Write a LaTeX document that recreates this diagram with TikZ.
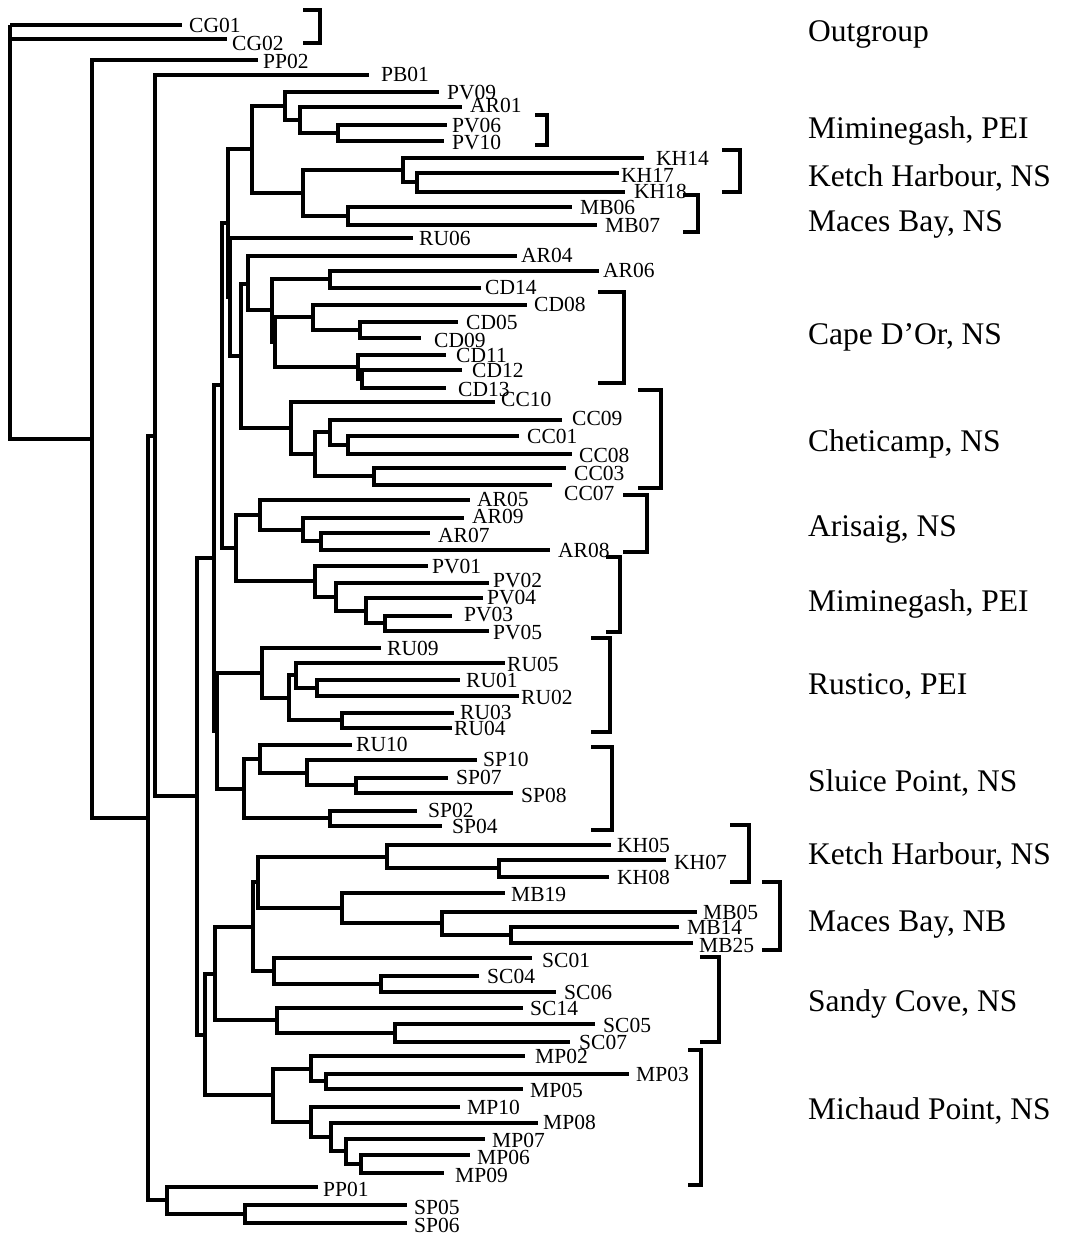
\documentclass[tikz,border=0pt]{standalone}
\usepackage{fontspec}
\setmainfont{Liberation Serif}
\newcommand\Lf[6]{\coordinate (#1) at (#2,#3); \node[lab] (t#1) at (#4,#5+7.2) {#6};}
\newcommand\Kids[2]{\foreach \c in {#2} {\draw[br] (#1) |- (\c);}}
\newcommand\Brk[4]{\draw[brk] (#1,#3) -- (#2,#3) -- (#2,#4) -- (#1,#4);}
\begin{document}
\begin{tikzpicture}[x=1pt,y=-1pt,
  br/.style={line width=3.8pt, line join=miter},
  brk/.style={line width=3.8pt, line join=miter},
  lab/.style={anchor=base west, inner sep=0pt, font=\fontsize{21.5}{22}\selectfont},
  grp/.style={anchor=base west, inner sep=0pt, font=\fontsize{31.5}{32}\selectfont}]
\useasboundingbox[fill=white] (0,0) rectangle (1066,1237);
% leaves: name, line end x, line y, label x, label y
\Lf{CG01}{182}{25}{189}{25}{CG01}
\Lf{CG02}{227}{39}{232}{43}{CG02}
\Lf{PP02}{258}{60}{263}{61}{PP02}
\Lf{PB01}{369}{75}{381}{74}{PB01}
\Lf{PV09}{439}{92}{447}{92}{PV09}
\Lf{AR01}{462}{107}{470}{105}{AR01}
\Lf{PV06}{447}{125}{452}{125}{PV06}
\Lf{PV10}{444}{141}{452}{142}{PV10}
\Lf{KH14}{644}{158}{656}{158}{KH14}
\Lf{KH17}{619}{173}{621}{175}{KH17}
\Lf{KH18}{625}{192}{634}{191}{KH18}
\Lf{MB06}{572}{207}{580}{207}{MB06}
\Lf{MB07}{597}{225}{605}{225}{MB07}
\Lf{RU06}{413}{238}{419}{238}{RU06}
\Lf{AR04}{517}{256}{521}{255}{AR04}
\Lf{AR06}{599}{271}{603}{270}{AR06}
\Lf{CD14}{481}{288}{485}{287}{CD14}
\Lf{CD08}{527}{305}{534}{304}{CD08}
\Lf{CD05}{458}{322}{466}{322}{CD05}
\Lf{CD09}{421}{338}{434}{340}{CD09}
\Lf{CD11}{446}{355}{456}{355}{CD11}
\Lf{CD12}{462}{370}{472}{370}{CD12}
\Lf{CD13}{446}{388}{458}{389}{CD13}
\Lf{CC10}{495}{402}{501}{399}{CC10}
\Lf{CC09}{562}{420}{572}{418}{CC09}
\Lf{CC01}{519}{436}{527}{436}{CC01}
\Lf{CC08}{572}{454}{579}{455}{CC08}
\Lf{CC03}{566}{468}{574}{473}{CC03}
\Lf{CC07}{552}{485}{564}{493}{CC07}
\Lf{AR05}{470}{500}{477}{499}{AR05}
\Lf{AR09}{464}{518}{472}{516}{AR09}
\Lf{AR07}{430}{533}{438}{535}{AR07}
\Lf{AR08}{550}{550}{558}{550}{AR08}
\Lf{PV01}{428}{566}{432}{566}{PV01}
\Lf{PV02}{489}{583}{493}{580}{PV02}
\Lf{PV04}{483}{598}{487}{597}{PV04}
\Lf{PV03}{452}{616}{464}{614}{PV03}
\Lf{PV05}{489}{631}{493}{632}{PV05}
\Lf{RU09}{381}{648}{387}{648}{RU09}
\Lf{RU05}{505}{663}{507}{664}{RU05}
\Lf{RU01}{460}{680}{466}{680}{RU01}
\Lf{RU02}{519}{696}{521}{697}{RU02}
\Lf{RU03}{454}{713}{460}{712}{RU03}
\Lf{RU04}{452}{728}{454}{728}{RU04}
\Lf{RU10}{352}{745}{356}{744}{RU10}
\Lf{SP10}{477}{760}{483}{759}{SP10}
\Lf{SP07}{448}{778}{456}{777}{SP07}
\Lf{SP08}{513}{793}{521}{795}{SP08}
\Lf{SP02}{417}{811}{428}{810}{SP02}
\Lf{SP04}{442}{826}{452}{826}{SP04}
\Lf{KH05}{611}{845}{617}{845}{KH05}
\Lf{KH07}{666}{860}{674}{862}{KH07}
\Lf{KH08}{609}{877}{617}{877}{KH08}
\Lf{MB19}{505}{893}{511}{894}{MB19}
\Lf{MB05}{697}{912}{703}{912}{MB05}
\Lf{MB14}{679}{927}{687}{927}{MB14}
\Lf{MB25}{693}{943}{699}{945}{MB25}
\Lf{SC01}{532}{958}{542}{960}{SC01}
\Lf{SC04}{479}{976}{487}{976}{SC04}
\Lf{SC06}{556}{992}{564}{992}{SC06}
\Lf{SC14}{523}{1008}{530}{1008}{SC14}
\Lf{SC05}{595}{1024}{603}{1025}{SC05}
\Lf{SC07}{570}{1042}{579}{1042}{SC07}
\Lf{MP02}{525}{1056}{535}{1056}{MP02}
\Lf{MP03}{629}{1074}{636}{1074}{MP03}
\Lf{MP05}{523}{1089}{530}{1090}{MP05}
\Lf{MP10}{460}{1107}{467}{1107}{MP10}
\Lf{MP08}{538}{1123}{543}{1122}{MP08}
\Lf{MP07}{485}{1139}{492}{1140}{MP07}
\Lf{MP06}{470}{1155}{477}{1157}{MP06}
\Lf{MP09}{444}{1173}{455}{1175}{MP09}
\Lf{PP01}{318}{1187}{323}{1189}{PP01}
\Lf{SP05}{407}{1205}{414}{1207}{SP05}
\Lf{SP06}{407}{1223}{414}{1225}{SP06}
% internal nodes
\coordinate (r) at (10,25);
\coordinate (N) at (92,439);
\coordinate (O) at (148,818);
\coordinate (P) at (155,436);
\coordinate (Q) at (197,796);
\coordinate (R) at (214,558);
\coordinate (S) at (222,385);
\coordinate (U) at (228,223);
\coordinate (Tp) at (252,149);
\coordinate (A1) at (285,106);
\coordinate (A3) at (300,120);
\coordinate (A4) at (338,133);
\coordinate (A2) at (303,193);
\coordinate (KHa) at (403,170);
\coordinate (KHb) at (417,182);
\coordinate (MBa) at (348,216);
\coordinate (V) at (230,297);
\coordinate (W) at (241,356);
\coordinate (X) at (248,284);
\coordinate (Y) at (272,310);
\coordinate (Y1) at (330,279);
\coordinate (Z) at (275,342);
\coordinate (Z1) at (313,317);
\coordinate (Z3) at (360,330);
\coordinate (Z2) at (358,367);
\coordinate (Z4) at (362,379);
\coordinate (CCa) at (291,428);
\coordinate (CCb) at (315,454);
\coordinate (CCc) at (330,432);
\coordinate (CCd) at (348,445);
\coordinate (CCe) at (374,476);
\coordinate (ARPV) at (236,548);
\coordinate (ARa) at (260,515);
\coordinate (ARb) at (303,530);
\coordinate (ARc) at (321,541);
\coordinate (PVa) at (315,581);
\coordinate (PVb) at (336,597);
\coordinate (PVc) at (366,611);
\coordinate (PVd) at (385,623);
\coordinate (T) at (217,731);
\coordinate (RUa) at (262,673);
\coordinate (RUb) at (289,698);
\coordinate (RUc) at (296,675);
\coordinate (RUd) at (317,688);
\coordinate (RUe) at (342,720);
\coordinate (SPa) at (244,789);
\coordinate (SPb) at (260,759);
\coordinate (SPc) at (307,773);
\coordinate (SPd) at (356,785);
\coordinate (SPe) at (330,818);
\coordinate (Hn) at (205,1035);
\coordinate (Ha) at (215,974);
\coordinate (Hb) at (253,927);
\coordinate (Hc) at (258,882);
\coordinate (KHc) at (387,857);
\coordinate (KHd) at (499,868);
\coordinate (MBb) at (342,908);
\coordinate (MBc) at (442,923);
\coordinate (MBd) at (511,935);
\coordinate (SCa) at (274,971);
\coordinate (SCb) at (381,984);
\coordinate (SCd) at (277,1020);
\coordinate (SCe) at (395,1033);
\coordinate (MPa) at (273,1095);
\coordinate (MPb) at (311,1069);
\coordinate (MPc) at (326,1081);
\coordinate (MPd) at (311,1122);
\coordinate (MPe) at (331,1137);
\coordinate (MPf) at (346,1151);
\coordinate (MPg) at (361,1164);
\coordinate (PPc) at (167,1200);
\coordinate (PPd) at (245,1214);
% branches
\Kids{r}{CG01,CG02,N}
\Kids{N}{PP02,O}
\Kids{O}{P,PPc}
\Kids{P}{PB01,Q}
\Kids{Q}{R,Hn}
\Kids{R}{S,T}
\Kids{S}{U,ARPV}
\Kids{U}{Tp,V}
\Kids{Tp}{A1,A2}
\Kids{A1}{PV09,A3}
\Kids{A3}{AR01,A4}
\Kids{A4}{PV06,PV10}
\Kids{A2}{KHa,MBa}
\Kids{KHa}{KH14,KHb}
\Kids{KHb}{KH17,KH18}
\Kids{MBa}{MB06,MB07}
\Kids{V}{RU06,W}
\Kids{W}{X,CCa}
\Kids{X}{AR04,Y}
\Kids{Y}{Y1,Z}
\Kids{Y1}{AR06,CD14}
\Kids{Z}{Z1,Z2}
\Kids{Z1}{CD08,Z3}
\Kids{Z3}{CD05,CD09}
\Kids{Z2}{CD11,Z4}
\Kids{Z4}{CD12,CD13}
\Kids{CCa}{CC10,CCb}
\Kids{CCb}{CCc,CCe}
\Kids{CCc}{CC09,CCd}
\Kids{CCd}{CC01,CC08}
\Kids{CCe}{CC03,CC07}
\Kids{ARPV}{ARa,PVa}
\Kids{ARa}{AR05,ARb}
\Kids{ARb}{AR09,ARc}
\Kids{ARc}{AR07,AR08}
\Kids{PVa}{PV01,PVb}
\Kids{PVb}{PV02,PVc}
\Kids{PVc}{PV04,PVd}
\Kids{PVd}{PV03,PV05}
\Kids{T}{RUa,SPa}
\Kids{RUa}{RU09,RUb}
\Kids{RUb}{RUc,RUe}
\Kids{RUc}{RU05,RUd}
\Kids{RUd}{RU01,RU02}
\Kids{RUe}{RU03,RU04}
\Kids{SPa}{SPb,SPe}
\Kids{SPb}{RU10,SPc}
\Kids{SPc}{SP10,SPd}
\Kids{SPd}{SP07,SP08}
\Kids{SPe}{SP02,SP04}
\Kids{Hn}{Ha,MPa}
\Kids{Ha}{Hb,SCd}
\Kids{Hb}{Hc,SCa}
\Kids{Hc}{KHc,MBb}
\Kids{KHc}{KH05,KHd}
\Kids{KHd}{KH07,KH08}
\Kids{MBb}{MB19,MBc}
\Kids{MBc}{MB05,MBd}
\Kids{MBd}{MB14,MB25}
\Kids{SCa}{SC01,SCb}
\Kids{SCb}{SC04,SC06}
\Kids{SCd}{SC14,SCe}
\Kids{SCe}{SC05,SC07}
\Kids{MPa}{MPb,MPd}
\Kids{MPb}{MP02,MPc}
\Kids{MPc}{MP03,MP05}
\Kids{MPd}{MP10,MPe}
\Kids{MPe}{MP08,MPf}
\Kids{MPf}{MP07,MPg}
\Kids{MPg}{MP06,MP09}
\Kids{PPc}{PP01,PPd}
\Kids{PPd}{SP05,SP06}
% brackets
\Brk{303}{320}{10}{43}
\Brk{535}{547}{115}{145}
\Brk{722}{740}{150}{192}
\Brk{683}{698}{195}{232}
\Brk{598}{624}{292}{383}
\Brk{638}{661}{390}{488}
\Brk{623}{647}{495}{552}
\Brk{606}{620}{557}{632}
\Brk{591}{610}{638}{732}
\Brk{591}{612}{747}{830}
\Brk{730}{749}{825}{882}
\Brk{762}{780}{882}{950}
\Brk{700}{719}{957}{1042}
\Brk{688}{701}{1050}{1185}
% group labels
\node[grp] (g1) at (808,41) {Outgroup};
\node[grp] (g2) at (808,138) {Miminegash, PEI};
\node[grp] (g3) at (808,186) {Ketch Harbour, NS};
\node[grp] (g4) at (808,231) {Maces Bay, NS};
\node[grp] (g5) at (808,344) {Cape D’Or, NS};
\node[grp] (g6) at (808,451) {Cheticamp, NS};
\node[grp] (g7) at (808,536) {Arisaig, NS};
\node[grp] (g8) at (808,611) {Miminegash, PEI};
\node[grp] (g9) at (808,694) {Rustico, PEI};
\node[grp] (g10) at (808,791) {Sluice Point, NS};
\node[grp] (g11) at (808,864) {Ketch Harbour, NS};
\node[grp] (g12) at (808,931) {Maces Bay, NB};
\node[grp] (g13) at (808,1011) {Sandy Cove, NS};
\node[grp] (g14) at (808,1119) {Michaud Point, NS};
\end{tikzpicture}
\end{document}
